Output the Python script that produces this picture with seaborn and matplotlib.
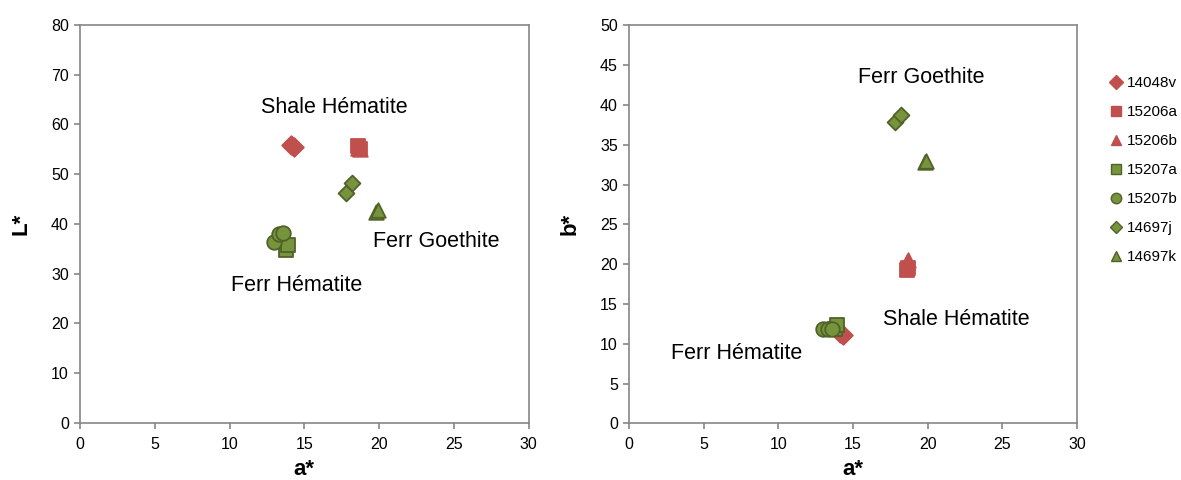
import pandas as pd
import seaborn as sns
import matplotlib.pyplot as plt
from matplotlib.lines import Line2D

samples = ["14048v", "15206a", "15206b", "15207a", "15207b", "14697j", "14697k"]
a_star = [[14.1, 14.3], [18.6, 18.7], [18.6, 18.7], [13.8, 13.9],
          [13.0, 13.3, 13.6], [17.8, 18.2], [19.8, 19.9]]
L_star = [[55.9, 55.4], [55.6, 55.0], [55.3, 55.0], [34.8, 35.7],
          [36.4, 38.0, 38.1], [46.3, 48.3], [42.3, 42.8]]
b_star = [[11.3, 11.1], [19.3, 19.5], [20.3, 20.5], [11.9, 12.3],
          [11.9, 11.9, 11.9], [37.9, 38.7], [32.8, 33.0]]

rows = []
for s, a, l, b in zip(samples, a_star, L_star, b_star):
    for i in range(len(a)):
        rows.append({"sample": s, "a": a[i], "L": l[i], "b": b[i]})
df = pd.DataFrame(rows)

red, green, dgreen = "#C0504D", "#77933C", "#4F6228"
styles = {
    "14048v": dict(marker="D", color=red, ec=red, s=90),
    "15206a": dict(marker="s", color=red, ec=red, s=100),
    "15206b": dict(marker="^", color=red, ec=red, s=110),
    "15207a": dict(marker="s", color=green, ec=dgreen, s=100),
    "15207b": dict(marker="o", color=green, ec=dgreen, s=110),
    "14697j": dict(marker="D", color=green, ec=dgreen, s=65),
    "14697k": dict(marker="^", color=green, ec=dgreen, s=110),
}

sns.set_style("white")
plt.rcParams["font.family"] = ["Liberation Sans", "DejaVu Sans"]
plt.rcParams["text.color"] = "black"
plt.rcParams["axes.labelcolor"] = "black"
grey = "#868686"

fig = plt.figure(figsize=(11.81, 4.8), dpi=100)
ax1 = fig.add_axes([0.0677, 0.119, 0.380, 0.829])
ax2 = fig.add_axes([0.5326, 0.118, 0.3793, 0.829])

for ax, ycol in [(ax1, "L"), (ax2, "b")]:
    for s in samples:
        st = styles[s]
        sub = df[df["sample"] == s]
        sns.scatterplot(data=sub, x="a", y=ycol, ax=ax, marker=st["marker"],
                        color=st["color"], edgecolor=st["ec"], s=st["s"],
                        linewidth=1.3, legend=False, zorder=3)
    ax.set_xlim(0, 30)
    ax.set_xticks(range(0, 31, 5))
    for sp in ax.spines.values():
        sp.set_color(grey)
        sp.set_linewidth(1.2)
    ax.tick_params(axis="both", bottom=True, left=True, direction="out",
                   length=4, width=1.2, color=grey, labelsize=11.5,
                   labelcolor="black")
    ax.tick_params(axis="x", pad=6)
    ax.tick_params(axis="y", pad=4)
    ax.set_xlabel("a*", fontsize=16, fontweight="bold", labelpad=5)

ax1.set_ylim(0, 80)
ax1.set_yticks(range(0, 81, 10))
ax1.set_ylabel("L*", fontsize=16, fontweight="bold", labelpad=14)
ax2.set_ylim(0, 50)
ax2.set_yticks(range(0, 51, 5))
ax2.set_ylabel("b*", fontsize=16, fontweight="bold", labelpad=14)

# Group labels
ax1.text(17.0, 63.4, "Shale Hématite", fontsize=15.5, ha="center", va="center")
ax1.text(23.8, 36.5, "Ferr Goethite", fontsize=15.5, ha="center", va="center")
ax1.text(14.5, 27.7, "Ferr Hématite", fontsize=15.5, ha="center", va="center")
ax2.text(19.6, 43.4, "Ferr Goethite", fontsize=15.5, ha="center", va="center")
ax2.text(21.9, 13.0, "Shale Hématite", fontsize=15.5, ha="center", va="center")
ax2.text(7.2, 8.8, "Ferr Hématite", fontsize=15.5, ha="center", va="center")

# Legend outside the right plot
handles = [Line2D([], [], linestyle="none", marker=styles[s]["marker"],
                  markerfacecolor=styles[s]["color"],
                  markeredgecolor=styles[s]["ec"],
                  markersize=7.5 if s != "14697j" else 6.5, label=s)
           for s in samples]
fig.legend(handles=handles, loc="upper left", bbox_to_anchor=(0.935, 0.854),
           frameon=False, fontsize=11, handlelength=0.8,
           handletextpad=0.3, labelspacing=0.98, borderaxespad=0)

fig.savefig("out.png", dpi=100)
